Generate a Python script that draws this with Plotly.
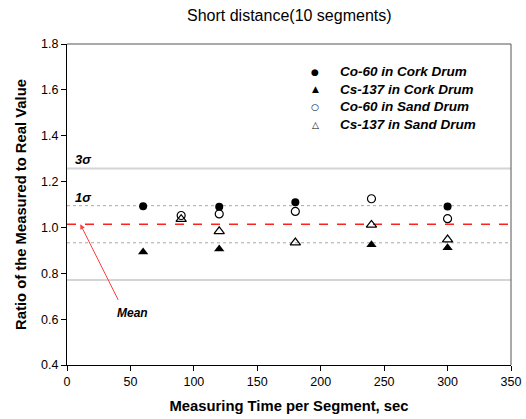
import plotly.graph_objects as go

# Data
series_names = ["Co-60 in Cork Drum", "Cs-137 in Cork Drum", "Co-60 in Sand Drum", "Cs-137 in Sand Drum"]
co60_cork_x = [60, 120, 180, 300]
co60_cork_y = [1.092, 1.090, 1.110, 1.091]
cs137_cork_x = [60, 120, 240, 300]
cs137_cork_y = [0.893, 0.906, 0.925, 0.911]
co60_sand_x = [90, 120, 180, 240, 300]
co60_sand_y = [1.052, 1.059, 1.070, 1.125, 1.038]
cs137_sand_x = [90, 120, 180, 240, 300]
cs137_sand_y = [1.036, 0.983, 0.934, 1.011, 0.947]

mean_val = 1.014
sigma = 0.081
x_ticks = [0, 50, 100, 150, 200, 250, 300, 350]
y_ticks = [0.4, 0.6, 0.8, 1.0, 1.2, 1.4, 1.6, 1.8]

FONT = "Liberation Sans, Arial, sans-serif"

fig = go.Figure()

# reference lines
for yv, dash, col, w in [
    (mean_val + 3 * sigma, "solid", "#d4d4d4", 2),
    (mean_val - 3 * sigma, "solid", "#d4d4d4", 2),
    (mean_val + sigma, "dot", "#a8a8a8", 1),
    (mean_val - sigma, "dot", "#a8a8a8", 1),
    (mean_val, "dash", "#ff2020", 1.5),
]:
    fig.add_shape(type="line", xref="paper", yref="y", x0=0, x1=1, y0=yv, y1=yv,
                  line=dict(color=col, width=w, dash=dash), layer="below")

fig.add_trace(go.Scatter(x=co60_cork_x, y=co60_cork_y, mode="markers", name=series_names[0],
                         marker=dict(symbol="circle", size=8, color="black", line=dict(width=0))))
fig.add_trace(go.Scatter(x=cs137_cork_x, y=cs137_cork_y, mode="markers", name=series_names[1],
                         marker=dict(symbol="triangle-up", size=9, color="black", line=dict(width=0))))
fig.add_trace(go.Scatter(x=co60_sand_x, y=co60_sand_y, mode="markers", name=series_names[2],
                         marker=dict(symbol="circle-open", size=8, color="black", line=dict(width=1.2))))
fig.add_trace(go.Scatter(x=cs137_sand_x, y=cs137_sand_y, mode="markers", name=series_names[3],
                         marker=dict(symbol="triangle-up-open", size=9, color="black", line=dict(width=1.2))))

# top/right frame in dark gray
fig.add_shape(type="line", xref="paper", yref="paper", x0=0, x1=1, y0=1, y1=1,
              line=dict(color="#555555", width=1))
fig.add_shape(type="line", xref="paper", yref="paper", x0=1, x1=1, y0=0, y1=1,
              line=dict(color="#555555", width=1))

# custom legend (compact rows as in the reference)
legend_glyphs = ["●", "▲", "○", "△"]
leg_font = dict(family=FONT, size=13.5, color="black", weight="bold", style="italic")
for i, (g, name) in enumerate(zip(legend_glyphs, series_names)):
    yshift = -(27.7 + 17.6 * i)
    fig.add_annotation(xref="paper", yref="paper", x=0.5586, y=1, yshift=yshift, text=g,
                       showarrow=False, xanchor="center", yanchor="middle",
                       font=dict(family="DejaVu Sans", size=9, color="black"))
    fig.add_annotation(xref="paper", yref="paper", x=0.6104, y=1, yshift=yshift, text=name,
                       showarrow=False, xanchor="left", yanchor="middle", font=leg_font)

lab_font = dict(family=FONT, size=13, color="black", weight="bold", style="italic")
fig.add_annotation(x=5, y=mean_val + 3 * sigma, text="3σ", showarrow=False, xanchor="left",
                   yanchor="bottom", yshift=0, font=lab_font)
fig.add_annotation(x=5, y=mean_val + sigma, text="1σ", showarrow=False, xanchor="left",
                   yanchor="bottom", yshift=-1, font=lab_font)
fig.add_annotation(x=52, y=0.628, text="Mean", showarrow=False,
                   font=dict(family=FONT, size=12, color="black", weight="bold", style="italic"))
fig.add_annotation(x=10.5, y=mean_val, ax=41, ay=0.677, axref="x", ayref="y", xref="x", yref="y",
                   text="", showarrow=True, arrowhead=2, arrowsize=1, arrowwidth=1, arrowcolor="#ff4040")

fig.update_layout(
    width=526, height=419,
    margin=dict(l=67, r=15, t=44, b=54, autoexpand=False),
    paper_bgcolor="white", plot_bgcolor="white",
    title=dict(text="Short distance(10 segments)", x=0.55, xanchor="center", y=0.963, yanchor="middle",
               font=dict(family=FONT, size=16, color="black")),
    showlegend=False,
    xaxis=dict(range=[0, 350], tickvals=x_ticks, ticks="outside", ticklen=5, tickcolor="black",
               showline=True, linecolor="black", linewidth=1, showgrid=False, zeroline=False,
               automargin=False,
               tickfont=dict(family=FONT, size=12.5, color="black"),
               title=dict(text="Measuring Time per Segment, sec", standoff=12,
                          font=dict(family=FONT, size=14.8, color="black", weight="bold"))),
    yaxis=dict(range=[0.4, 1.8], tickvals=y_ticks, tickformat=".1f", ticks="outside", ticklen=5,
               tickcolor="black", showline=True, linecolor="black", linewidth=1, showgrid=False,
               zeroline=False, automargin=False,
               tickfont=dict(family=FONT, size=12.5, color="black"),
               title=dict(text="Ratio of the Measured to Real Value", standoff=10,
                          font=dict(family=FONT, size=14.8, color="black", weight="bold"))),
)

fig.write_html("out.html", config={"displayModeBar": False},
               post_script="document.body.style.margin='0';")
